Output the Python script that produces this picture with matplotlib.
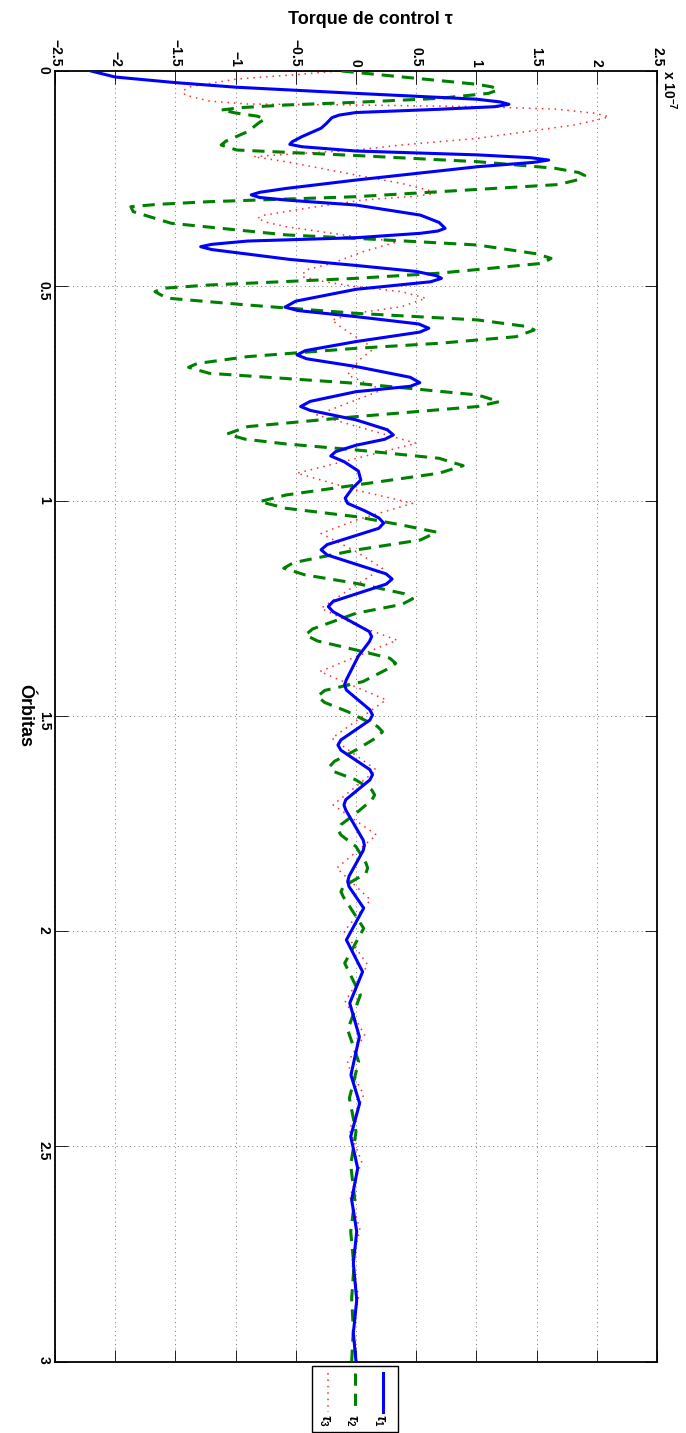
import numpy as np
import matplotlib
matplotlib.use("Agg")
import matplotlib.pyplot as plt
from matplotlib.lines import Line2D
from matplotlib.patches import Rectangle

# ---------- Data (torque in units of 1e-7, time in orbits) ----------
orb1 = [0.000, 0.014, 0.027, 0.0376, 0.052, 0.0655, 0.072, 0.0775, 0.083, 0.089, 0.0965,
        0.1025, 0.1085, 0.1217, 0.133, 0.1527, 0.1645, 0.1705, 0.176, 0.186, 0.195, 0.2015,
        0.207, 0.2125, 0.2225, 0.2535, 0.273, 0.282, 0.288, 0.294, 0.300, 0.3116, 0.335,
        0.352, 0.3657, 0.372, 0.3773, 0.3876, 0.3953, 0.403, 0.4085, 0.415, 0.422, 0.438,
        0.452, 0.466, 0.476, 0.482, 0.490, 0.5075, 0.535, 0.549, 0.557, 0.571, 0.588, 0.598,
        0.607, 0.629, 0.650, 0.660, 0.669, 0.687, 0.712, 0.7245, 0.733, 0.7455, 0.768, 0.780,
        0.789, 0.811, 0.834, 0.846, 0.856, 0.870, 0.885, 0.895, 0.908, 0.930, 0.951, 0.970,
        0.993, 1.005, 1.022, 1.039, 1.051, 1.063, 1.101, 1.113, 1.125, 1.169, 1.181, 1.193,
        1.233, 1.245, 1.257, 1.303, 1.315, 1.327, 1.360, 1.415, 1.427, 1.439, 1.485, 1.497,
        1.509, 1.555, 1.567, 1.579, 1.624, 1.636, 1.648, 1.694, 1.706, 1.718, 1.788, 1.800,
        1.812, 1.872, 1.884, 1.896, 1.946, 2.020, 2.094, 2.167, 2.245, 2.334, 2.400, 2.477,
        2.551, 2.624, 2.698, 2.772, 2.857, 2.934, 3.000]
tau1 = [-2.20, -2.00, -1.50, -1.00, 0.00, 1.00, 1.20, 1.27, 1.15, 0.69, 0.00,
        -0.14, -0.20, -0.245, -0.29, -0.45, -0.53, -0.55, -0.45, 0.00, 1.01, 1.45,
        1.60, 1.47, 1.01, 0.00, -0.58, -0.80, -0.87, -0.80, -0.58, 0.00, 0.535,
        0.69, 0.74, 0.68, 0.535, 0.00, -0.90, -1.20, -1.29, -1.20, -1.00, -0.55,
        0.00, 0.50, 0.67, 0.71, 0.62, 0.00, -0.50, -0.59, -0.48, 0.00, 0.52, 0.605,
        0.53, 0.00, -0.42, -0.49, -0.41, 0.00, 0.45, 0.53, 0.45, 0.00, -0.38, -0.46,
        -0.38, 0.00, 0.26, 0.31, 0.24, 0.00, -0.17, -0.21, -0.10, 0.02, 0.04, -0.03,
        -0.09, -0.07, 0.07, 0.19, 0.23, 0.19, -0.24, -0.29, -0.24, 0.25, 0.30, 0.25,
        -0.19, -0.23, -0.19, 0.11, 0.13, 0.11, 0.02, -0.08, -0.095, -0.08, 0.115, 0.137,
        0.115, -0.125, -0.15, -0.125, 0.115, 0.137, 0.115, -0.085, -0.10, -0.085, 0.06, 0.07,
        0.06, -0.058, -0.069, -0.058, 0.064, -0.08, 0.055, -0.052, 0.028, -0.042, 0.03, -0.044,
        0.014, -0.036, 0.006, -0.022, 0.006, -0.022, 0.00]

orb2 = [0.000, 0.017, 0.031, 0.037, 0.044, 0.052, 0.0636, 0.0728, 0.079, 0.085, 0.0907,
        0.098, 0.105, 0.1116, 0.119, 0.141, 0.163, 0.172, 0.1837, 0.1965, 0.2108, 0.226,
        0.236, 0.243, 0.253, 0.264, 0.2806, 0.2922, 0.3038, 0.310, 0.3155, 0.327, 0.354,
        0.381, 0.389, 0.4045, 0.425, 0.4355, 0.447, 0.470, 0.482, 0.4975, 0.505, 0.513,
        0.528, 0.544, 0.5633, 0.5787, 0.594, 0.602, 0.6176, 0.633, 0.6447, 0.664, 0.680,
        0.6888, 0.7027, 0.726, 0.7531, 0.7686, 0.780, 0.8035, 0.8267, 0.8438, 0.856, 0.867,
        0.8809, 0.9003, 0.9175, 0.935, 0.9624, 0.9856, 1.001, 1.0166, 1.036, 1.0552, 1.072,
        1.0902, 1.1135, 1.143, 1.156, 1.1716, 1.191, 1.215, 1.227, 1.240, 1.2606, 1.297,
        1.311, 1.325, 1.3459, 1.365, 1.377, 1.389, 1.4195, 1.440, 1.454, 1.468, 1.4892,
        1.524, 1.536, 1.548, 1.5783, 1.605, 1.617, 1.629, 1.6481, 1.671, 1.683, 1.695,
        1.7256, 1.752, 1.764, 1.776, 1.8031, 1.841, 1.853, 1.865, 1.896, 1.908, 1.920,
        1.993, 2.074, 2.148, 2.229, 2.303, 2.388, 2.466, 2.543, 2.624, 2.698, 2.779, 2.853,
        2.927, 3.000]
tau2 = [-0.12, 0.50, 1.01, 1.13, 1.18, 1.10, 0.69, 0.00, -0.58, -0.95, -1.12,
        -0.99, -0.82, -0.755, -0.80, -0.90, -1.08, -1.12, -0.99, 0.00, 1.01, 1.65,
        1.85, 1.90, 1.84, 1.68, 0.69, 0.00, -1.22, -1.65, -1.87, -1.85, -1.535,
        -0.58, 0.00, 1.01, 1.50, 1.62, 1.55, 0.69, 0.00, -1.22, -1.60, -1.67,
        -1.57, -0.90, 0.00, 1.01, 1.42, 1.48, 1.33, 0.69, 0.00, -0.90, -1.32,
        -1.39, -1.22, 0.00, 1.01, 1.19, 1.01, 0.00, -0.90, -1.07, -0.92, -0.58,
        0.00, 0.69, 0.89, 0.69, 0.00, -0.58, -0.80, -0.58, 0.00, 0.376, 0.67,
        0.535, 0.00, -0.52, -0.60, -0.42, 0.00, 0.40, 0.47, 0.38, 0.00, -0.36,
        -0.42, -0.32, 0.00, 0.28, 0.33, 0.27, 0.057, -0.26, -0.32, -0.26, -0.07,
        0.18, 0.22, 0.18, 0.00, -0.18, -0.22, -0.18, 0.00, 0.13, 0.155, 0.13,
        0.00, -0.125, -0.15, -0.125, 0.00, 0.082, 0.097, 0.082, -0.105, -0.125, -0.105,
        0.064, -0.094, 0.036, -0.069, 0.022, -0.055, 0.00, -0.044, -0.01, -0.044, -0.017, -0.036,
        -0.022, -0.036]

orb3 = [0.000, 0.009, 0.0186, 0.0364, 0.046, 0.0558, 0.0698, 0.0767, 0.079, 0.0829, 0.0884,
        0.098, 0.1062, 0.114, 0.1256, 0.1566, 0.172, 0.1837, 0.1938, 0.1992, 0.2109, 0.2419,
        0.2612, 0.277, 0.2845, 0.291, 0.300, 0.3194, 0.335, 0.3426, 0.352, 0.362, 0.3853,
        0.3969, 0.4202, 0.4473, 0.4626, 0.478, 0.490, 0.5013, 0.513, 0.5284, 0.548, 0.563,
        0.579, 0.5942, 0.629, 0.6446, 0.672, 0.7067, 0.7415, 0.7997, 0.8655, 0.935, 0.974,
        1.005, 1.044, 1.075, 1.117, 1.156, 1.195, 1.249, 1.288, 1.323, 1.396, 1.462, 1.551,
        1.625, 1.706, 1.776, 1.853, 1.927, 2.000, 2.078, 2.163, 2.241, 2.307, 2.380, 2.4616,
        2.535, 2.617, 2.694, 2.770, 2.849, 2.919, 3.000]
tau3 = [-0.15, -0.52, -0.99, -1.376, -1.44, -1.42, -1.22, -0.90, 0.00, 1.01, 1.65,
        1.98, 2.10, 2.00, 1.81, 1.01, 0.376, 0.00, -0.58, -0.85, -0.58, 0.00,
        0.376, 0.60, 0.66, 0.50, 0.057, -0.42, -0.76, -0.82, -0.74, -0.58, 0.00,
        0.344, 0.057, -0.20, -0.42, -0.45, -0.26, 0.00, 0.376, 0.58, 0.376, 0.00,
        -0.20, -0.13, 0.057, 0.153, 0.025, -0.07, 0.217, -0.325, 0.50, -0.49, 0.00,
        0.47, 0.00, -0.29, 0.00, 0.22, 0.00, -0.29, 0.00, 0.34, -0.30, 0.25, -0.20,
        0.17, -0.19, 0.17, -0.16, 0.12, -0.10, 0.097, -0.089, 0.072, -0.075, 0.064, -0.055,
        0.047, -0.05, 0.033, -0.036, 0.022, -0.022, 0.01]

x_ticks = [-2.5, -2, -1.5, -1, -0.5, 0, 0.5, 1, 1.5, 2, 2.5]
x_labels = ["\u22122.5", "\u22122", "\u22121.5", "\u22121", "\u22120.5", "0", "0.5", "1", "1.5", "2", "2.5"]
y_ticks = [0, 0.5, 1, 1.5, 2, 2.5, 3]
y_labels = ["0", "0.5", "1", "1.5", "2", "2.5", "3"]

# ---------- Style ----------
plt.rcParams["font.family"] = ["Liberation Sans", "DejaVu Sans"]
plt.rcParams["font.weight"] = "bold"
plt.rcParams["mathtext.fontset"] = "custom"
plt.rcParams["mathtext.rm"] = "Liberation Sans:bold"
plt.rcParams["mathtext.bf"] = "Liberation Sans:bold"
plt.rcParams["mathtext.it"] = "Liberation Sans:italic"

W, H = 686, 1433
fig = plt.figure(figsize=(W / 100, H / 100), dpi=100)
ax = fig.add_axes([55 / W, 1 - 1361.5 / H, 602 / W, 1290.5 / H])

ax.plot(tau1, orb1, color="#0000ff", lw=2.2, solid_joinstyle="round", zorder=4)
ax.plot(tau2, orb2, color="#008000", lw=2.2, ls=(0, (4, 2.6)), dash_joinstyle="round", zorder=3)
ax.plot(tau3, orb3, color="#ff2a2a", lw=1.1, ls=(0, (1, 3.2)), zorder=2)

ax.set_xlim(-2.5, 2.5)
ax.set_ylim(3, 0)
ax.set_xticks(x_ticks)
ax.set_xticklabels(x_labels)
ax.set_yticks(y_ticks)
ax.set_yticklabels(y_labels)
ax.xaxis.tick_top()
ax.tick_params(axis="both", direction="in", length=9, width=0.6, top=True, bottom=True,
               left=True, right=True, labelsize=10)
ax.tick_params(axis="x", labeltop=True, labelbottom=False, labelrotation=-90, pad=3)
ax.tick_params(axis="y", labelrotation=-90, pad=3)
ax.grid(True, color="#7a7a7a", lw=0.7, ls=(0, (1, 3.5)))
for s in ax.spines.values():
    s.set_linewidth(1.3)

# axis titles
fig.text(370 / W, 1 - 19 / H, "Torque de control \u03c4", fontsize=13, fontweight="bold",
         ha="center", va="center")
fig.text(25 / W, 1 - 716 / H, "\u00d3rbitas", fontsize=13, fontweight="bold",
         rotation=-90, ha="center", va="center")
fig.text(669 / W, 1 - 70 / H, r"x 10$^{\mathbf{-7}}$", fontsize=10, fontweight="bold",
         rotation=-90, ha="center", va="top")

# legend with vertical samples
fig.patches.append(Rectangle((312 / W, 1 - 1432 / H), 86 / W, 66 / H, transform=fig.transFigure,
                             facecolor="white", edgecolor="black", lw=1.0))
samples = [(383, "#0000ff", "-", 2.2, r"$\tau_1$"),
           (355, "#008000", (0, (4, 2.6)), 2.2, r"$\tau_2$"),
           (328, "#ff2a2a", (0, (1, 3.2)), 1.1, r"$\tau_3$")]
for xp, col, style, lw, lab in samples:
    fig.lines.append(Line2D([xp / W, xp / W], [1 - 1373 / H, 1 - 1412 / H], transform=fig.transFigure,
                            color=col, ls=style, lw=lw))
    fig.text((xp - 4) / W, 1 - 1414 / H, lab, fontsize=10, rotation=-90, ha="center", va="top")

fig.savefig("out.png", dpi=100)
